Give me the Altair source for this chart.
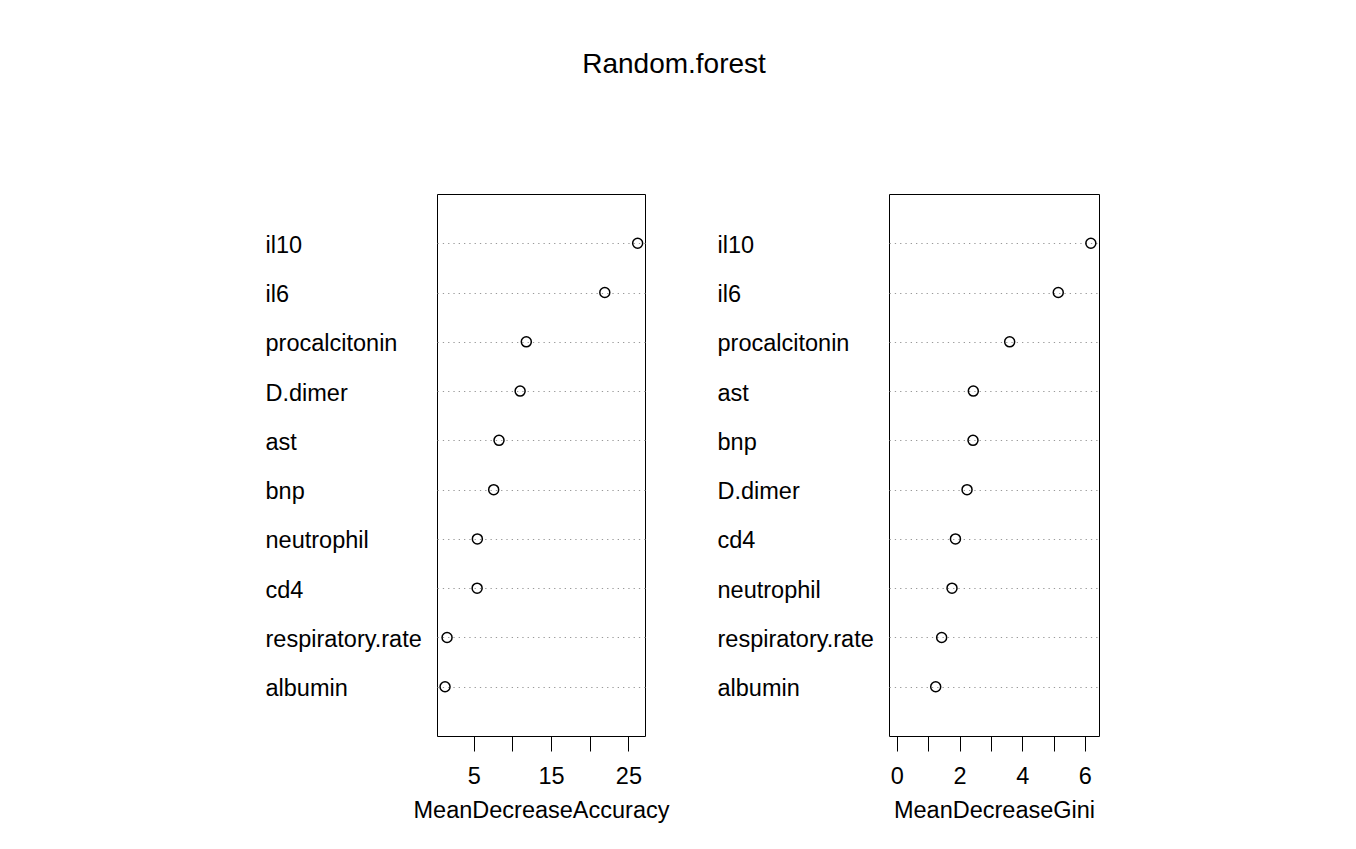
import altair as alt
import pandas as pd

acc_vars = ["il10", "il6", "procalcitonin", "D.dimer", "ast", "bnp",
            "neutrophil", "cd4", "respiratory.rate", "albumin"]
acc_vals = [26.2, 21.95, 11.8, 11.0, 8.27, 7.58, 5.47, 5.44, 1.55, 1.29]

gini_vars = ["il10", "il6", "procalcitonin", "ast", "bnp", "D.dimer",
             "cd4", "neutrophil", "respiratory.rate", "albumin"]
gini_vals = [6.19, 5.15, 3.60, 2.44, 2.43, 2.24, 1.87, 1.76, 1.43, 1.24]

acc_ticks = [5, 10, 15, 20, 25]
gini_ticks = [0, 1, 2, 3, 4, 5, 6]

FONT = "Liberation Sans"
FS = 23.5

acc_df = pd.DataFrame({"var": acc_vars, "value": acc_vals})
gini_df = pd.DataFrame({"var": gini_vars, "value": gini_vals})


def panel(df, order, title, domain, ticks, label_expr, width):
    return alt.Chart(df).mark_point(
        shape="circle", filled=False, color="black", size=100, strokeWidth=1.5,
        opacity=1
    ).encode(
        x=alt.X("value:Q", title=title,
                scale=alt.Scale(domain=domain, nice=False, zero=False),
                axis=alt.Axis(values=ticks, labelExpr=label_expr, grid=False,
                              domain=False, tickSize=15, tickColor="black",
                              tickWidth=1, labelPadding=13, titlePadding=11,
                              labelOverlap=False, labelFlush=False,
                              labelFont=FONT, labelFontSize=FS,
                              labelColor="black", titleFont=FONT,
                              titleFontSize=FS, titleColor="black",
                              titleFontWeight="normal")),
        y=alt.Y("var:N", sort=order, title=None,
                scale=alt.Scale(type="point", padding=1),
                axis=alt.Axis(labelAlign="left", labelPadding=172, ticks=False,
                              domain=False, grid=True, gridDash=[1.3, 4],
                              gridColor="#999999", gridWidth=1,
                              labelBaseline="middle", labelOffset=2,
                              labelFont=FONT, labelFontSize=FS,
                              labelColor="black", labelLimit=400)),
    ).properties(width=width, height=542)


left = panel(acc_df, acc_vars, "MeanDecreaseAccuracy", [0.25, 27.15],
             acc_ticks, "datum.value % 10 == 5 ? datum.label : ''", 208)
right = panel(gini_df, gini_vars, "MeanDecreaseGini", [-0.25, 6.45],
              gini_ticks, "datum.value % 2 == 0 ? datum.label : ''", 210)

chart = alt.hconcat(left, right, spacing=46).properties(
    title=alt.TitleParams("Random.forest", fontSize=28, font=FONT,
                          fontWeight="normal", color="black", offset=115,
                          anchor="middle", dx=-8),
    padding={"left": 256, "top": 42, "right": 5, "bottom": 5},
    background="white",
).configure_view(
    stroke="black", strokeWidth=1
)

chart.save("out.html", embed_options={"renderer": "svg", "actions": False})
